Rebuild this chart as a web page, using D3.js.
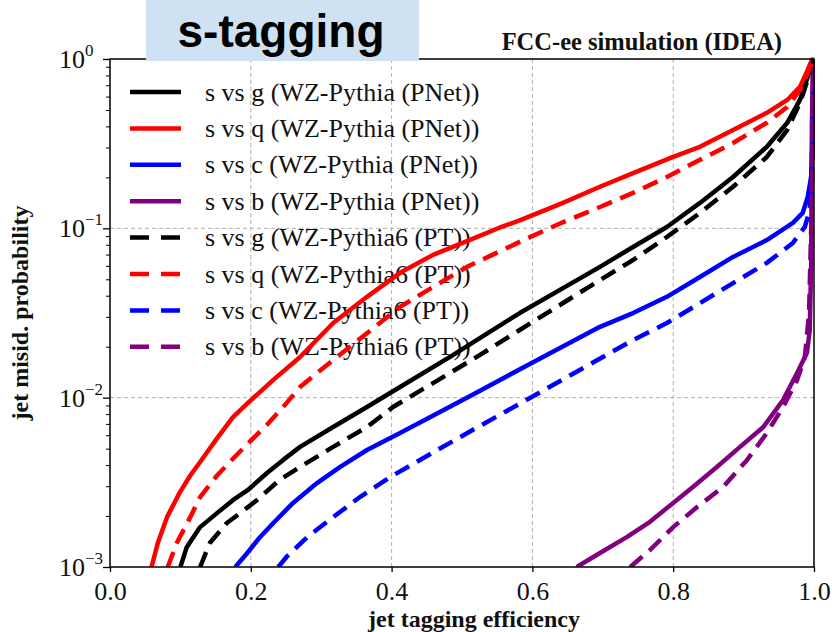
<!DOCTYPE html>
<html>
<head>
<meta charset="utf-8">
<script src="https://cdn.jsdelivr.net/npm/d3@7"></script>
<style>
  html, body { margin: 0; padding: 0; background: #fff; }
  svg { display: block; }
</style>
</head>
<body>
<svg id="chart" width="832" height="632"></svg>
<script>
// ---------------- data (efficiency, misid probability) ----------------
const sgPNet = [[0.100,0.001],[0.109,0.00131],[0.128,0.00172],[0.152,0.00208],[0.175,0.00249],[0.196,0.00285],[0.223,0.00359],[0.246,0.00429],[0.270,0.00512],[0.317,0.00671],[0.365,0.00881],[0.412,0.01156],[0.483,0.0174],[0.582,0.0316],[0.696,0.0592],[0.743,0.0776],[0.791,0.1019],[0.838,0.1413],[0.885,0.201],[0.933,0.303],[0.962,0.420],[0.980,0.573],[0.991,0.783],[1.0,1.0]];
const sqPNet = [[0.059,0.001],[0.068,0.00139],[0.081,0.00197],[0.099,0.00275],[0.114,0.00347],[0.128,0.00417],[0.152,0.00575],[0.175,0.00771],[0.196,0.00931],[0.232,0.01274],[0.270,0.01738],[0.317,0.0276],[0.365,0.0394],[0.412,0.0546],[0.459,0.0697],[0.507,0.0841],[0.554,0.1012],[0.582,0.1114],[0.640,0.1396],[0.696,0.176],[0.743,0.212],[0.800,0.264],[0.838,0.303],[0.885,0.381],[0.933,0.481],[0.962,0.573],[0.980,0.684],[0.991,0.863],[0.997,0.989],[1.0,1.0]];
const scPNet = [[0.178,0.001],[0.195,0.00121],[0.213,0.00150],[0.232,0.00182],[0.260,0.00239],[0.294,0.00313],[0.327,0.00390],[0.365,0.00491],[0.412,0.00618],[0.511,0.0102],[0.601,0.0162],[0.696,0.0262],[0.743,0.0316],[0.791,0.0394],[0.838,0.0516],[0.885,0.0678],[0.933,0.0853],[0.970,0.1076],[0.984,0.1233],[0.991,0.153],[0.996,0.201],[0.999,0.5],[1.0,1.0]];
const sbPNet = [[0.663,0.001],[0.696,0.00121],[0.734,0.00150],[0.767,0.00185],[0.800,0.00239],[0.828,0.00297],[0.862,0.00390],[0.895,0.00512],[0.928,0.00671],[0.956,0.00968],[0.976,0.0140],[0.990,0.0184],[0.994,0.0251],[0.996,0.063],[0.9965,0.158],[0.997,0.398],[0.998,0.794],[1.0,1.0]];
const sgPT = [[0.128,0.001],[0.142,0.00139],[0.166,0.00182],[0.185,0.00208],[0.209,0.00249],[0.241,0.00327],[0.270,0.00390],[0.317,0.00512],[0.365,0.00671],[0.402,0.00881],[0.521,0.0174],[0.582,0.0251],[0.696,0.0495],[0.743,0.0650],[0.791,0.0889],[0.838,0.1233],[0.885,0.176],[0.933,0.264],[0.962,0.381],[0.980,0.550],[0.991,0.752],[1.0,1.0]];
const sqPT = [[0.082,0.001],[0.095,0.00139],[0.114,0.00197],[0.128,0.00259],[0.152,0.00347],[0.175,0.00437],[0.196,0.00537],[0.223,0.00692],[0.246,0.00881],[0.270,0.01156],[0.294,0.0140],[0.327,0.0180],[0.365,0.0240],[0.412,0.0344],[0.459,0.0451],[0.507,0.0592],[0.582,0.0832],[0.640,0.1072],[0.696,0.1337],[0.743,0.162],[0.791,0.201],[0.838,0.254],[0.885,0.319],[0.933,0.420],[0.962,0.521],[0.980,0.656],[0.991,0.826],[1.0,1.0]];
const scPT = [[0.239,0.001],[0.251,0.00115],[0.280,0.00150],[0.317,0.00197],[0.355,0.00259],[0.398,0.00340],[0.507,0.00617],[0.601,0.0102],[0.680,0.0156],[0.743,0.0219],[0.791,0.0276],[0.838,0.0362],[0.885,0.0475],[0.933,0.0625],[0.970,0.0820],[0.987,0.1019],[0.994,0.1285],[0.998,0.316],[1.0,1.0]];
const sbPT = [[0.739,0.001],[0.767,0.00126],[0.800,0.00172],[0.834,0.00226],[0.871,0.00297],[0.905,0.00429],[0.933,0.00618],[0.956,0.00881],[0.976,0.0127],[0.987,0.0174],[0.993,0.0316],[0.996,0.1],[0.998,0.316],[1.0,1.0]];

const seriesNames = ["s vs g (WZ-Pythia (PNet))","s vs q (WZ-Pythia (PNet))","s vs c (WZ-Pythia (PNet))","s vs b (WZ-Pythia (PNet))",
                     "s vs g (WZ-Pythia6 (PT))","s vs q (WZ-Pythia6 (PT))","s vs c (WZ-Pythia6 (PT))","s vs b (WZ-Pythia6 (PT))"];
const seriesData = [sgPNet, sqPNet, scPNet, sbPNet, sgPT, sqPT, scPT, sbPT];
const seriesColors = ["#000000","#ff0000","#0000ff","#800080","#000000","#ff0000","#0000ff","#800080"];
const seriesDashed = [false,false,false,false,true,true,true,true];

const xTicks = [0.0, 0.2, 0.4, 0.6, 0.8, 1.0];
const yTicks = [1e-3, 1e-2, 1e-1, 1];
const yTickExp = ["\u22123", "\u22122", "\u22121", "0"];

// ---------------- layout ----------------
const svg = d3.select("#chart");
const L = 110, T = 59, W = 704, H = 508;
const x = d3.scaleLinear().domain([0, 1]).range([L, L + W]);
const y = d3.scaleLog().domain([1e-3, 1]).range([T + H, T]);
const serif = "'Liberation Serif', 'Times New Roman', serif";

// grid
const grid = svg.append("g");
grid.selectAll("line.gx").data(xTicks.filter(d => d > 0 && d < 1)).join("line")
  .attr("x1", d => x(d)).attr("x2", d => x(d)).attr("y1", T).attr("y2", T + H)
  .attr("stroke", "#b0b0b0").attr("stroke-width", 1).attr("stroke-dasharray", "4,3");
grid.selectAll("line.gy").data(yTicks.filter(d => d > 1e-3 && d < 1)).join("line")
  .attr("y1", d => y(d)).attr("y2", d => y(d)).attr("x1", L).attr("x2", L + W)
  .attr("stroke", "#b0b0b0").attr("stroke-width", 1).attr("stroke-dasharray", "4,3");

// clip
svg.append("clipPath").attr("id", "clip").append("rect")
  .attr("x", L).attr("y", T - 2).attr("width", W + 1).attr("height", H + 2);

// legend (drawn under curves)
const leg = svg.append("g");
seriesNames.forEach((name, i) => {
  const cy = 92 + i * 36.4;
  leg.append("line").attr("x1", 130).attr("x2", 181).attr("y1", cy).attr("y2", cy)
    .attr("stroke", seriesColors[i]).attr("stroke-width", 4.5)
    .attr("stroke-dasharray", seriesDashed[i] ? "19,12" : null);
  leg.append("text").attr("x", 205).attr("y", cy + 8.5)
    .attr("font-family", serif).attr("font-size", 26).attr("fill", "#111")
    .text(name);
});

// curves
const line = d3.line().x(d => x(d[0])).y(d => y(d[1]));
const curves = svg.append("g").attr("clip-path", "url(#clip)");
seriesData.forEach((data, i) => {
  curves.append("path").datum(data).attr("d", line)
    .attr("fill", "none").attr("stroke", seriesColors[i]).attr("stroke-width", 4.5)
    .attr("stroke-linejoin", "round")
    .attr("stroke-dasharray", seriesDashed[i] ? "16,9" : null);
});

// axes
const xAxis = d3.axisBottom(x).tickValues(xTicks).tickSize(5).tickFormat(d3.format(".1f"));
const gx = svg.append("g").attr("transform", `translate(0,${T + H})`).call(xAxis);
gx.select(".domain").remove();
gx.selectAll("line").attr("stroke", "#000").attr("stroke-width", 1.3);
gx.selectAll("text").attr("font-family", serif).attr("font-size", 26).attr("fill", "#111").attr("dy", "0.95em");

const minorY = [];
for (let e = -3; e < 0; e++) for (let m = 2; m <= 9; m++) minorY.push(m * Math.pow(10, e));
const yAxisMinor = d3.axisLeft(y).tickValues(minorY).tickSize(4).tickFormat("");
const gym = svg.append("g").attr("transform", `translate(${L},0)`).call(yAxisMinor);
gym.select(".domain").remove();
gym.selectAll("line").attr("stroke", "#000").attr("stroke-width", 1);

const yAxis = d3.axisLeft(y).tickValues(yTicks).tickSize(7).tickFormat("");
const gy = svg.append("g").attr("transform", `translate(${L},0)`).call(yAxis);
gy.select(".domain").remove();
gy.selectAll("line").attr("stroke", "#000").attr("stroke-width", 1.3);
yTicks.forEach((v, i) => {
  const t = svg.append("text").attr("x", 59).attr("y", y(v) + 9)
    .attr("font-family", serif).attr("font-size", 26).attr("fill", "#111");
  t.append("tspan").text("10");
  t.append("tspan").attr("font-size", 17).attr("dy", -12).text(yTickExp[i]);
});

// frame
svg.append("rect").attr("x", L).attr("y", T).attr("width", W).attr("height", H)
  .attr("fill", "none").attr("stroke", "#000").attr("stroke-width", 1.5);

// axis labels
svg.append("text").attr("x", 474).attr("y", 627).attr("text-anchor", "middle")
  .attr("font-family", serif).attr("font-weight", "bold").attr("font-size", 24).attr("fill", "#111")
  .text("jet tagging efficiency");
svg.append("text").attr("transform", `translate(28,${T + H / 2}) rotate(-90)`).attr("text-anchor", "middle")
  .attr("font-family", serif).attr("font-weight", "bold").attr("font-size", 24).attr("fill", "#111")
  .text("jet misid. probability");

// top-right title
svg.append("text").attr("x", 782).attr("y", 50).attr("text-anchor", "end")
  .attr("font-family", serif).attr("font-weight", "bold").attr("font-size", 24.5).attr("fill", "#111")
  .text("FCC-ee simulation (IDEA)");

// s-tagging box
svg.append("rect").attr("x", 146).attr("y", 0).attr("width", 273).attr("height", 61).attr("fill", "#cfe2f3");
svg.append("text").attr("x", 281).attr("y", 47).attr("text-anchor", "middle")
  .attr("font-family", "'Liberation Sans', Arial, sans-serif").attr("font-weight", "bold").attr("font-size", 46).attr("fill", "#000")
  .text("s-tagging");
</script>
</body>
</html>
